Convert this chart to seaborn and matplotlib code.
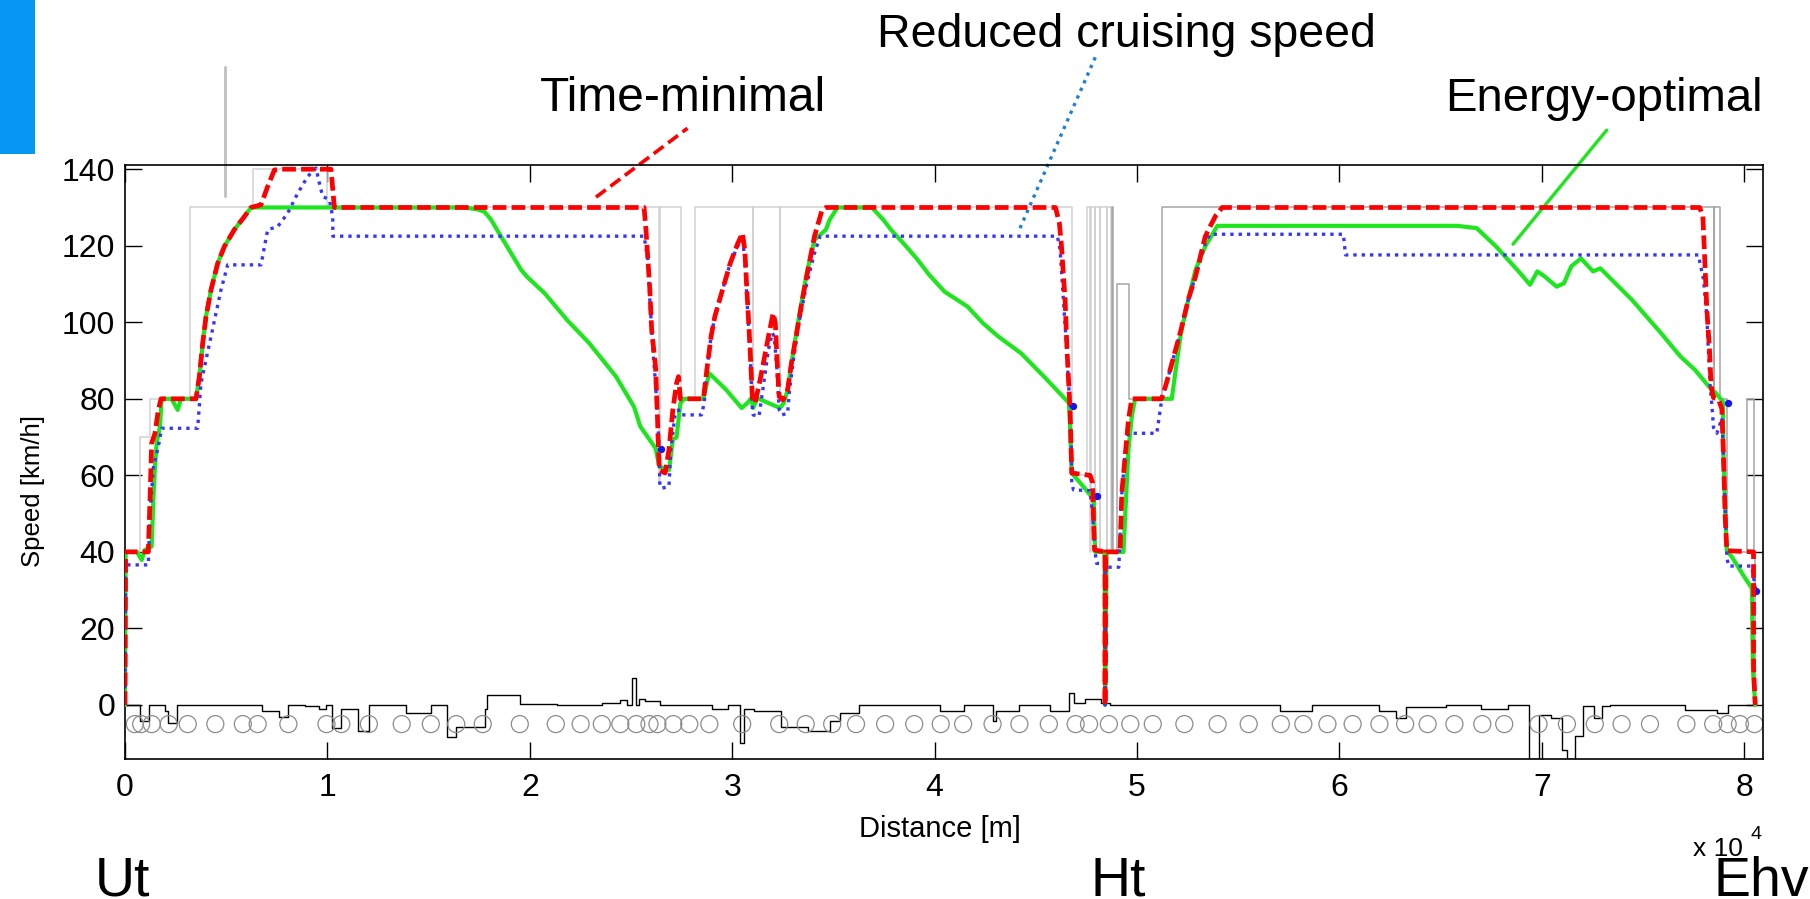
import numpy as np
import pandas as pd
import matplotlib.pyplot as plt
from matplotlib.patches import Rectangle
import seaborn as sns

# ---- data: distance [m], speed [km/h] ----
# speed limit (steps), light part up to Ht and darker part after
limit1_x = [0, 750, 1230, 3200, 6300, 10000, 26380, 26440, 27480, 28160, 31030, 31050,
            32360, 32380, 46800, 47520, 47540, 47700, 47720, 47900, 47920, 48150, 48170,
            48500, 48520, 48700]
limit1_v = [40, 70, 80, 130, 140, 130, 58, 130, 80, 130, 80, 130,
            80, 130, 60, 80, 130, 40, 130, 40, 130, 40, 130,
            40, 130, 40]
limit2_x = [48700, 48760, 48830, 49030, 49580, 51220, 78480, 78500, 78780, 79140, 80130, 80500, 80550]
limit2_v = [40, 130, 40, 110, 80, 130, 80, 130, 80, 40, 80, 40, 0]

# time-minimal profile
tmin_x = [0, 30, 1150, 1235, 1317, 1482, 1646, 1780, 3508, 3673, 3838, 4002, 4250, 4579,
          4908, 5402, 5896, 6226, 6720, 7049, 7379, 7708, 10178, 10343, 25645, 25740,
          25930, 26020, 26210, 26305, 26345, 26400, 26685, 26875, 27065, 27250, 27345,
          27440, 28575, 28765, 28955, 29140, 29520, 29900, 30280, 30505, 30620, 30750,
          30885, 30995, 31130, 31410, 31790, 32020, 32130, 32205, 32320, 32510, 32735,
          32925, 33210, 33490, 33775, 34060, 34440, 34625, 45970, 46160, 46255, 46445,
          46540, 46690, 46775, 47680, 47810, 47845, 47900, 48420, 48420, 48440, 49160,
          49245, 49410, 49575, 49740, 51212, 51452, 51811, 52170, 52530, 52889, 53368,
          53607, 53900, 54206, 77797, 77953, 78019, 78150, 78282, 78365, 78480, 78727,
          78891, 78974, 79056, 79138, 80456, 80460, 80540]
tmin_v = [0, 40, 40, 53.6, 68.4, 71, 77.1, 80, 80, 85.8, 94.5, 101.5, 108.5, 115.4,
          119.8, 124.2, 127.6, 130, 130.7, 135.5, 139.8, 140, 140, 130, 130, 124,
          108.5, 98, 88.4, 75.4, 68.4, 61.4, 60.6, 66.7, 77.1, 84.1, 85.8,
          80, 80, 88.4, 96.3, 101.5, 108.5, 115.4, 120.7, 123.3, 118.9, 105.9,
          92.8, 80.2, 78.9, 85.8, 96.3, 102.4, 99.8, 91.1, 80.6, 79.7, 82.3,
          89.3, 98, 106.7, 114.6, 122.4, 129.4, 130, 130, 126, 120.7, 105.9,
          92.8, 77.1, 60.6, 60, 58, 49.2, 40.5, 40, 0, 40, 40,
          55.3, 64.9, 74.5, 80, 80, 84.1, 91, 98, 105.9, 112, 122.4,
          125, 128, 130, 130, 127.7, 119.9, 103.5, 92.8, 83.2, 80.3, 79.8,
          77.4, 64.8, 49.3, 40.3, 40, 9.7, 0]

# reduced cruising speed profile
cruise_x = [0, 30, 1150, 1235, 1400, 1646, 1811, 3590, 3755, 4250, 4743, 5073, 6720, 7049,
            7543, 8037, 8531, 9026, 9437, 9600, 9767, 10096, 10261, 10270, 25645, 25835,
            25930, 26080, 26210, 26305, 26400, 26420, 26495, 26875, 26970, 27160, 27345,
            27440, 28480, 28615, 28765, 28955, 29140, 29520, 29900, 30280, 30505, 30620,
            30750, 30885, 30995, 31035, 31320, 31510, 31790, 31980, 32075, 32205, 32320,
            32450, 32735, 32830, 33020, 33300, 33680, 34060, 34345, 46065, 46200, 46360,
            46530, 46610, 46700, 46740, 46775, 46860, 47680, 47800, 47900, 48000, 48420,
            48420, 48440, 49100, 49245, 49410, 49575, 50975, 51225, 51452, 51811, 52170,
            52530, 52889, 53368, 53600, 60194, 60300, 77738, 77790, 77986, 78150, 78233,
            78315, 78400, 78480, 78645, 78900, 79000, 79080, 79138, 79221, 80374, 80560]
cruise_v = [0, 36.6, 36.6, 50, 62, 67.5, 72.3, 72.3, 84.1, 96.3, 108.5, 115, 115, 124.2,
            125, 128.5, 133.7, 138.1, 140.3, 136.4, 132.9, 132, 127.6, 122.5, 122.5, 116.3,
            105.9, 92.8, 84.1, 75.4, 66.7, 58, 56.6, 57.1, 66.7, 75.4, 77.1,
            75.8, 75.8, 78.9, 88.4, 96.3, 101.5, 108.5, 115.4, 120, 121.5, 117,
            104, 92, 77.1, 75.8, 75.4, 82.3, 92.8, 97.2, 96.3, 88, 77.1,
            75.8, 76.2, 82.3, 90, 100, 110, 118, 122.5, 122.5, 118.9, 105.9,
            92.8, 84.1, 78, 70, 58, 56.2, 56, 50, 41, 37, 37,
            0, 36, 36, 55, 66, 71, 71, 80, 84.1, 91, 98,
            105.9, 112, 120.5, 123, 123, 117.6, 117.6, 116.1, 111.2, 101.6, 91.9,
            83.2, 78.3, 72.5, 71, 75, 60, 48, 38.7, 36.3, 36.3, 30]

# energy-optimal profile
eopt_x = [0, 30, 593, 823, 988, 1317, 1400, 1482, 1564, 1729, 1811, 2300, 2602, 2767,
          3508, 3673, 3838, 4002, 4250, 4579, 4908, 5402, 5896, 6226, 16770, 17400,
          17755, 18085, 18580, 19070, 19570, 19860, 20730, 21840, 22940, 24260, 25150,
          25455, 26210, 26400, 26875, 27065, 27250, 27440, 27630, 28575, 28860, 29710,
          30465, 30750, 30940, 31035, 31225, 31790, 32360, 32545, 32735, 32925, 33300,
          33680, 34060, 34625, 34815, 35195, 36895, 37465, 37840, 38600, 39165, 39730,
          40490, 41625, 42380, 43140, 44270, 45405, 46635, 46690, 46775, 47485, 47865,
          47900, 47930, 48400, 48420, 48500, 49330, 49410, 49575, 49740, 49905, 51715,
          51931, 52170, 52530, 52889, 53368, 53967, 65822, 66780, 67738, 68936, 69415,
          69774, 70133, 70732, 71092, 71451, 71930, 72528, 72888, 74444, 75881, 76839,
          77558, 78395, 78562, 78941, 78974, 79073, 79138, 79386, 79962, 80374, 80423,
          80540]
eopt_v = [0, 40, 40, 37.9, 40.5, 41.4, 53.6, 62.3, 68.4, 72.8, 80, 80, 77.1, 80,
          80, 85.8, 94.5, 101.5, 108.5, 115.4, 119.8, 124.2, 127.6, 130, 130, 129.5,
          128.9, 126.8, 122.4, 118.1, 113.7, 111.9, 107.6, 100.6, 94.5, 85.8, 77.9,
          72.8, 67.1, 62.3, 61.4, 69.3, 70, 78.9, 80, 80, 86.7, 82.3,
          77.6, 78.9, 80.2, 77.6, 80.2, 78.9, 77.6, 78.9, 82.3, 89.3, 101.5,
          112.8, 121.5, 124.2, 126.8, 130, 130, 126.8, 124.2, 119.8, 116.3, 112.4,
          108, 104.1, 99.8, 96.3, 91.9, 85.8, 78.9, 72.8, 60.6, 56.2, 53.6,
          45, 40, 40, 0, 40, 40, 49, 66.7, 75.4, 80, 80,
          88.4, 97.2, 105.9, 113.7, 119.8, 125.2, 125.2, 124.6, 119.8, 112.8, 109.8,
          113.3, 112, 109.3, 110.2, 114.6, 116.7, 113.3, 114.1, 105.9, 97.2, 91.1,
          87.6, 82.3, 81.7, 79.3, 63.8, 48.4, 40.3, 38.7, 33.8, 30.5, 9.7,
          0]

# markers on the reduced-cruising-speed run
cruise_dot_x = [26495, 46857, 48010, 79188, 80588]
cruise_dot_v = [66.9, 78.2, 54.5, 79.0, 29.8]

# track gradient profile (steps) along the bottom
grad_x = [0, 747, 1192, 1977, 2107, 2578, 6764, 7601, 8072, 8909, 9563, 9955, 10217,
          10688, 11525, 12048, 13879, 15109, 15893, 16365, 17803, 17880, 19504, 21335,
          23558, 24474, 24814, 25050, 25259, 25390, 25700, 26436, 29000, 29784, 30360,
          30570, 31093, 32400, 33760, 34808, 35330, 36245, 40269, 41460, 42863, 43048,
          44187, 45695, 46622, 46887, 47416, 48210, 48686, 57077, 58666, 61974, 62769,
          63298, 65283, 67004, 68328, 69386, 69863, 70445, 70975, 71239, 71636, 72033,
          72562, 72960, 73357, 77063, 78651, 79180, 80540]
grad_v = [0, -4.3, 0, -1.5, -4.8, 0, -1.7, -3.2, 0, -0.4, -1.1, 0, -6.1,
          -1.1, -6.9, 0, -2.2, 0, -8.3, -5.7, -1.0, 2.6, 0.3, 0,
          0.4, 1.3, 0, 7.0, 0, 1.5, 1.0, 0, -1.1, 0, -10,
          -1.0, -1.7, -5.7, -6.9, -4.3, -2.2, 0, -1.7, 0, -4.3, -1.7,
          0, -1.7, 3.2, 0.5, 1.5, 0.5, 0, -1.7, 0, -1.7, -3.5,
          -0.5, 0, -1.1, 0, -14, -2.5, -3.5, -11.8, -14, -8, -0.4,
          -3.5, -0.4, 0, -1.3, -2.2, 0, 0]

# signal / marker positions drawn as circles
sign_x = [486, 799, 1322, 2160, 3101, 4462, 5822, 6555, 8072, 9955, 10688, 12048, 13670,
          15109, 16365, 17673, 19504, 21283, 22512, 23558, 24474, 25259, 25913, 26305,
          27090, 27875, 28869, 30491, 32322, 33630, 34938, 36115, 37554, 38993, 40301,
          41407, 42863, 44187, 45642, 46966, 47628, 48607, 49666, 50777, 52339, 53980,
          55516, 57104, 58216, 59407, 60651, 61974, 63245, 64357, 65680, 67056, 68141,
          69836, 71238, 72615, 73938, 75341, 77141, 78464, 79179, 79788, 80503]
sign_v = [-5] * len(sign_x)

# callout lines for the three labels
tmin_call_x = [23270, 27790]
tmin_call_v = [132.7, 150.7]
cruise_call_x = [44218, 48000]
cruise_call_v = [124.6, 170]
eopt_call_x = [68576, 73200]
eopt_call_v = [120.4, 150.2]
mark_x = [4920, 4920]
mark_v = [132.9, 166.8]

stations = ['Ut', 'Ht', 'Ehv']

# ---- figure ----
sns.set_theme(style="white")
plt.rcParams['font.family'] = ['Liberation Sans', 'DejaVu Sans']
plt.rcParams['text.color'] = 'black'
plt.rcParams['axes.labelcolor'] = 'black'

W, H = 1810, 899
fig = plt.figure(figsize=(W / 100, H / 100), dpi=100)
ax = fig.add_axes([125 / W, 1 - 759.3 / H, (1763.3 - 125) / W, (759.3 - 165) / H])

red = '#ff0000'
blue = '#3636ff'
green = '#1ee61e'

sns.lineplot(x=limit1_x, y=limit1_v, sort=False, estimator=None, drawstyle='steps-post',
             color='#d2d2d2', lw=1.1, ax=ax, zorder=1)
sns.lineplot(x=limit2_x, y=limit2_v, sort=False, estimator=None, drawstyle='steps-post',
             color='#a6a6a6', lw=1.1, ax=ax, zorder=1)
sns.lineplot(x=grad_x, y=grad_v, sort=False, estimator=None, drawstyle='steps-post',
             color='black', lw=1.0, ax=ax, zorder=2)
sns.scatterplot(x=sign_x, y=sign_v, marker='o', s=150, facecolor='none',
                edgecolor='#8c8c8c', linewidth=0.9, ax=ax, zorder=2)

sns.lineplot(x=eopt_x, y=eopt_v, sort=False, estimator=None, color=green, lw=3.0,
             ax=ax, zorder=3)
sns.lineplot(x=cruise_x, y=cruise_v, sort=False, estimator=None, color=blue, lw=2.4,
             linestyle=(0, (1, 1.5)), ax=ax, zorder=4)
sns.scatterplot(x=cruise_dot_x, y=cruise_dot_v, color='#1414f0', s=28, linewidth=0,
                ax=ax, zorder=4)
sns.lineplot(x=tmin_x, y=tmin_v, sort=False, estimator=None, color=red, lw=3.4,
             linestyle=(0, (2.9, 1.1)), ax=ax, zorder=5)

# callouts (run outside the axes box)
sns.lineplot(x=tmin_call_x, y=tmin_call_v, sort=False, estimator=None, color=red, lw=2.6,
             linestyle=(0, (3.4, 1.6)), ax=ax, clip_on=False)
sns.lineplot(x=cruise_call_x, y=cruise_call_v, sort=False, estimator=None, color='#1f7fd6',
             lw=2.4, linestyle=(0, (1, 1.5)), ax=ax, clip_on=False)
sns.lineplot(x=eopt_call_x, y=eopt_call_v, sort=False, estimator=None, color=green, lw=2.4,
             ax=ax, clip_on=False)
sns.lineplot(x=mark_x, y=mark_v, sort=False, estimator=None, color='#c4c4c4', lw=2.2,
             ax=ax, clip_on=False)

ax.set_xlim(0, 80940)
ax.set_ylim(-14.2, 141.1)
ax.set_xticks(np.arange(0, 80001, 10000))
ax.set_xticklabels([str(i) for i in range(9)])
ax.set_yticks(np.arange(0, 141, 20))
ax.tick_params(axis='both', direction='in', length=12, width=1, colors='black',
               labelsize=23, top=True, right=True, bottom=True, left=True)
ax.tick_params(axis='x', pad=10)
ax.tick_params(axis='y', pad=7)
for sp in ax.spines.values():
    sp.set_color('black')
    sp.set_linewidth(1.2)
ax.grid(False)

ax.set_xlabel('Distance [m]', fontsize=21)
ax.set_ylabel('Speed [km/h]', fontsize=18.5)
ax.xaxis.set_label_coords(0.4975, -0.094)
ax.yaxis.set_label_coords(-0.049, 0.452)

# annotations and station names
fig.text(540 / W, 1 - 111 / H, 'Time-minimal', fontsize=34.5, va='baseline')
fig.text(877 / W, 1 - 47 / H, 'Reduced cruising speed', fontsize=33.5, va='baseline')
fig.text(1445 / W, 1 - 111 / H, 'Energy-optimal', fontsize=34, va='baseline')
fig.text(1693 / W, 1 - 856 / H, 'x 10', fontsize=19, va='baseline')
fig.text(1750 / W, 1 - 839 / H, '4', fontsize=14, va='baseline')
for name, xpix in zip(stations, [95, 1090, 1713]):
    fig.text(xpix / W, 1 - 896 / H, name, fontsize=40, va='baseline')

fig.patches.append(Rectangle((0, 1 - 154 / H), 35 / W, 154 / H, transform=fig.transFigure,
                             facecolor='#0796f2', edgecolor='none'))

fig.savefig('out.png', dpi=100)
